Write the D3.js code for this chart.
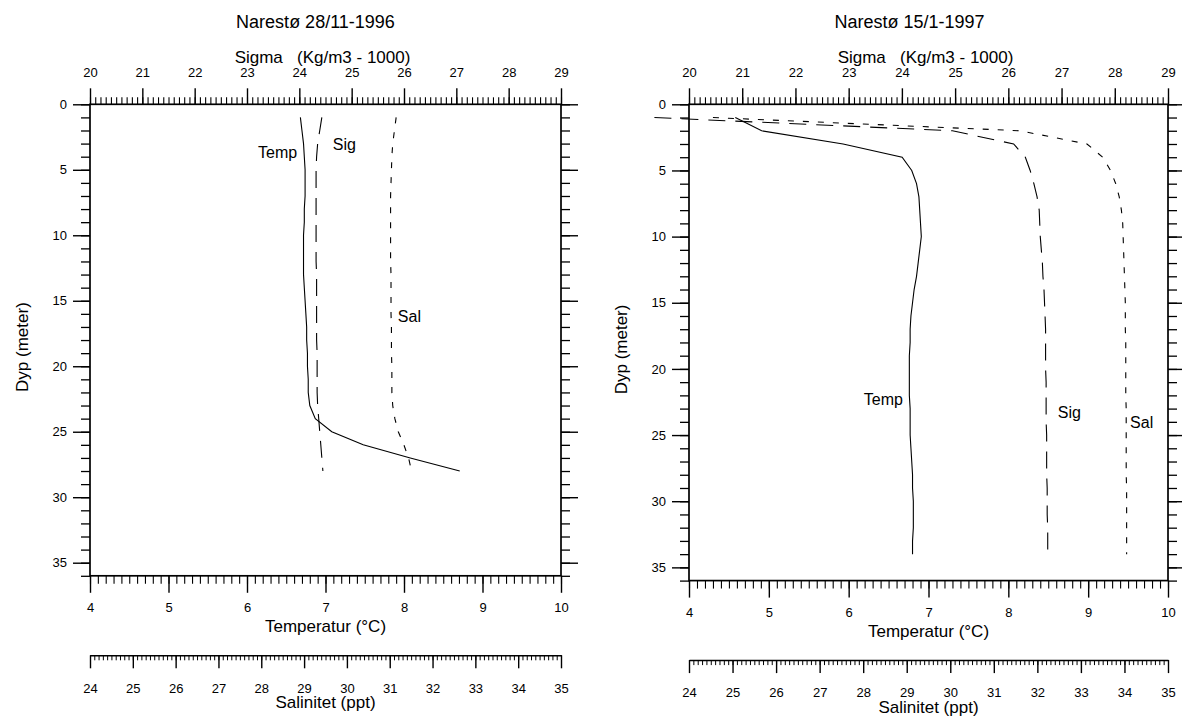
<!DOCTYPE html>
<html><head><meta charset="utf-8">
<script src="https://cdn.jsdelivr.net/npm/d3@7"></script>
<style>
body{margin:0;background:#fff;}
svg{display:block;font-family:"Liberation Sans",Arial,Helvetica,sans-serif;}
</style></head><body>
<svg id="chart" width="1182" height="717"></svg>
<script>
// ---- tick labels ----
const sigmaTicks = [20,21,22,23,24,25,26,27,28,29];
const tempTicks = [4,5,6,7,8,9,10];
const salTicks = [24,25,26,27,28,29,30,31,32,33,34,35];
const depthTicks = [0,5,10,15,20,25,30,35];
const depthMax = 36;

// ---- Narestø 28/11-1996 ----
const depthA = [1,2,3,4,5,6,7,8,9,10,11,12,13,14,15,16,17,18,19,20,21,22,23,24,25,26,27,28];
const tempA = [6.68,6.70,6.72,6.73,6.74,6.74,6.74,6.73,6.73,6.72,6.72,6.72,6.72,6.73,6.74,6.75,6.76,6.76,6.77,6.77,6.78,6.78,6.80,6.87,7.08,7.48,8.08,8.71];
const sigA = [24.43,24.39,24.35,24.33,24.32,24.32,24.32,24.32,24.32,24.32,24.32,24.32,24.33,24.33,24.33,24.33,24.33,24.33,24.34,24.34,24.34,24.34,24.35,24.37,24.39,24.41,24.43,24.45];
const salA = [31.15,31.11,31.07,31.05,31.04,31.03,31.02,31.02,31.02,31.02,31.02,31.02,31.03,31.03,31.03,31.03,31.04,31.04,31.04,31.05,31.05,31.05,31.07,31.12,31.20,31.33,31.44,31.51];

// ---- Narestø 15/1-1997 ----
const depthB = [1,2,3,4,5,6,7,8,9,10,11,12,13,14,15,16,17,18,19,20,21,22,23,24,25,26,27,28,29,30,31,32,33,34];
const tempB = [4.58,4.91,5.93,6.67,6.79,6.85,6.88,6.89,6.90,6.91,6.89,6.87,6.85,6.82,6.80,6.78,6.77,6.77,6.76,6.76,6.76,6.76,6.77,6.77,6.77,6.78,6.79,6.80,6.80,6.81,6.81,6.81,6.80,6.80];
const sigB = [19.35,24.95,26.10,26.32,26.41,26.48,26.54,26.58,26.59,26.60,26.62,26.64,26.65,26.67,26.68,26.69,26.70,26.70,26.70,26.70,26.71,26.71,26.71,26.71,26.72,26.72,26.72,26.72,26.73,26.73,26.73,26.74,26.74,26.74];
const salB = [24.55,31.60,33.14,33.50,33.68,33.80,33.88,33.93,33.96,33.97,33.98,33.99,34.00,34.01,34.02,34.02,34.02,34.03,34.03,34.03,34.03,34.03,34.04,34.04,34.04,34.04,34.04,34.04,34.05,34.05,34.05,34.05,34.05,34.05];

const svg = d3.select("#chart");
const FS_TICK = 13, FS_TITLE = 17;

function clean(sel, w) {
  sel.select(".domain").remove();
  sel.attr("font-size", null).attr("font-family", null);
  sel.selectAll(".tick line").attr("stroke", "#000").attr("stroke-width", w || 1.2);
  sel.selectAll("text").attr("fill", "#000").style("font-size", FS_TICK + "px");
}
function fine(arr, step) {
  const out = [];
  const n = Math.round((arr[arr.length-1] - arr[0]) / step);
  for (let i = 0; i <= n; i++) out.push(+(arr[0] + i * step).toFixed(3));
  return out;
}

function panel(p) {
  const g = svg.append("g");
  const xT = d3.scaleLinear().domain([tempTicks[0], tempTicks[tempTicks.length-1]]).range([p.x0, p.x1]);
  const xS = d3.scaleLinear().domain([sigmaTicks[0], sigmaTicks[sigmaTicks.length-1]]).range([p.x0, p.x1]);
  const xP = d3.scaleLinear().domain([salTicks[0], salTicks[salTicks.length-1]]).range([p.x0, p.x1]);
  const y = d3.scaleLinear().domain([0, depthMax]).range([p.y0, p.y1]);
  const cx = (p.x0 + p.x1) / 2;

  // top sigma axis
  g.append("g").attr("transform", `translate(0,${p.y0})`)
    .call(d3.axisTop(xS).tickValues(fine(sigmaTicks, 0.1)).tickSize(7).tickFormat(""))
    .call(s => clean(s, 1.1));
  g.append("g").attr("transform", `translate(0,${p.y0})`)
    .call(d3.axisTop(xS).tickValues(sigmaTicks).tickSize(16).tickPadding(11).tickFormat(d3.format("d")))
    .call(s => clean(s, 1.4));
  // bottom temp axis
  g.append("g").attr("transform", `translate(0,${p.y1})`)
    .call(d3.axisBottom(xT).tickValues(fine(tempTicks, 0.1)).tickSize(8).tickFormat(""))
    .call(s => clean(s, 1.1));
  g.append("g").attr("transform", `translate(0,${p.y1})`)
    .call(d3.axisBottom(xT).tickValues(tempTicks).tickSize(17).tickPadding(10).tickFormat(d3.format("d")))
    .call(s => clean(s, 1.4));
  // left depth axis
  g.append("g").attr("transform", `translate(${p.x0},0)`)
    .call(d3.axisLeft(y).tickValues(fine([0, depthMax], 1)).tickSize(9).tickFormat(""))
    .call(s => clean(s, 1.3));
  g.append("g").attr("transform", `translate(${p.x0},0)`)
    .call(d3.axisLeft(y).tickValues(depthTicks).tickSize(17).tickPadding(6).tickFormat(d3.format("d")))
    .call(s => clean(s, 1.4));
  // right depth axis
  g.append("g").attr("transform", `translate(${p.x1},0)`)
    .call(d3.axisRight(y).tickValues(fine([0, depthMax], 1)).tickSize(9).tickFormat(""))
    .call(s => clean(s, 1.3));
  g.append("g").attr("transform", `translate(${p.x1},0)`)
    .call(d3.axisRight(y).tickValues(depthTicks).tickSize(17).tickFormat(""))
    .call(s => clean(s, 1.4));
  // frame
  g.append("rect").attr("x", p.x0).attr("y", p.y0)
    .attr("width", p.x1 - p.x0).attr("height", p.y1 - p.y0)
    .attr("fill", "none").attr("stroke", "#000").attr("stroke-width", 1.7);

  // salinity axis
  const sy = p.y1 + 79.5;
  const sa = g.append("g").attr("transform", `translate(0,${sy})`);
  sa.call(d3.axisBottom(xP).tickValues(fine(salTicks, 0.1)).tickSize(5).tickSizeOuter(0).tickFormat(""));
  sa.select(".domain").attr("stroke", "#000").attr("stroke-width", 1.5);
  sa.attr("font-size", null).attr("font-family", null);
  sa.selectAll(".tick line").attr("stroke", "#000").attr("stroke-width", 1);
  g.append("g").attr("transform", `translate(0,${sy})`)
    .call(d3.axisBottom(xP).tickValues(salTicks).tickSize(13).tickPadding(15).tickFormat(d3.format("d")))
    .call(s => clean(s, 1.4));

  // titles
  const t = (x, yy, txt, fs, rot) => {
    const e = g.append("text").attr("text-anchor", "middle").attr("fill", "#000")
      .style("font-size", fs + "px").text(txt);
    if (rot) e.attr("transform", `translate(${x},${yy}) rotate(-90)`);
    else e.attr("x", x).attr("y", yy);
    return e;
  };
  t(cx + p.titleDx, 28, p.title, 18);
  t(cx - 3, 63, "Sigma\u00a0\u00a0\u00a0(Kg/m3 - 1000)", FS_TITLE);
  t(cx, p.y1 + 56, "Temperatur (\u00b0C)", FS_TITLE);
  t(cx, sy + 53, "Salinitet (ppt)", FS_TITLE);
  t(p.x0 - 62, (p.y0 + p.y1) / 2 + 7, "Dyp (meter)", FS_TITLE, true);

  // curves
  const mk = (xs, vals, depths) => d3.line().x((d, i) => xs(vals[i])).y((d, i) => y(depths[i]))(depths);
  g.append("path").attr("d", mk(xT, p.temp, p.depth)).attr("fill", "none").attr("stroke", "#000").attr("stroke-width", 1.1);
  g.append("path").attr("d", mk(xS, p.sig, p.depth)).attr("fill", "none").attr("stroke", "#000").attr("stroke-width", 1.1).attr("stroke-dasharray", "17,10");
  g.append("path").attr("d", mk(xP, p.sal, p.depth)).attr("fill", "none").attr("stroke", "#000").attr("stroke-width", 1.1).attr("stroke-dasharray", "6,9");

  // curve labels
  const lab = (x, yy, txt, anchor) => g.append("text").attr("x", x).attr("y", yy)
    .attr("text-anchor", anchor || "start").attr("fill", "#000").style("font-size", "16px").text(txt);
  lab(xT(p.lt[0]), y(p.lt[1]), "Temp", p.ltAnchor);
  lab(xS(p.lg[0]), y(p.lg[1]), "Sig");
  lab(xP(p.lp[0]), y(p.lp[1]), "Sal");
}

panel({x0: 90, x1: 561, y0: 104.3, y1: 575.8, title: "Narest\u00f8 28/11-1996", titleDx: -10,
  depth: depthA, temp: tempA, sig: sigA, sal: salA,
  lt: [6.64, 4.12], ltAnchor: "end", lg: [24.64, 3.49], lp: [31.19, 16.6]});
panel({x0: 689, x1: 1168, y0: 104.3, y1: 580.6, title: "Narest\u00f8 15/1-1997", titleDx: -19,
  depth: depthB, temp: tempB, sig: sigB, sal: salB,
  lt: [6.19, 22.7], ltAnchor: "start", lg: [26.93, 23.7], lp: [34.13, 24.5]});
</script>
</body></html>
